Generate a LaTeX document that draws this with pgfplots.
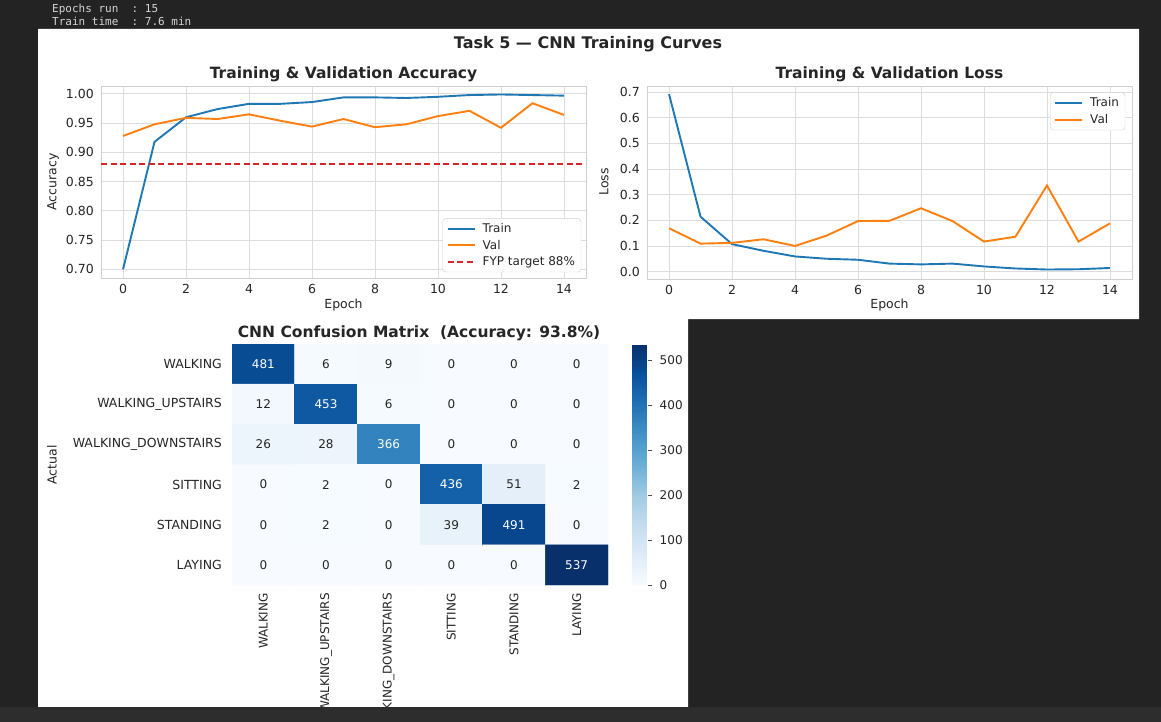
\documentclass[border=0pt]{standalone}
\usepackage{fontspec}
\setmainfont{DejaVu Sans}
\setmonofont{DejaVu Sans Mono}
\usepackage{pgfplots}
\pgfplotsset{compat=1.18}
\usepackage{pgfplotstable}

\definecolor{bgdark}{HTML}{232324}
\definecolor{bgstrip}{HTML}{2D2D2E}
\definecolor{tabblue}{HTML}{1F77B4}
\definecolor{taborange}{HTML}{FF7F0E}
\definecolor{tabred}{HTML}{D62728}
\definecolor{gridc}{HTML}{DDDDDD}
\definecolor{spinec}{HTML}{D0D0D0}
\definecolor{txt}{HTML}{262626}
\definecolor{termtxt}{HTML}{D4D4D4}

\pgfplotstableread{
epoch trainacc valacc trainloss valloss
0  0.700 0.928 0.692 0.169
1  0.918 0.948 0.214 0.109
2  0.960 0.959 0.107 0.112
3  0.974 0.957 0.081 0.126
4  0.983 0.965 0.059 0.100
5  0.983 0.954 0.050 0.140
6  0.986 0.944 0.046 0.197
7  0.994 0.957 0.031 0.198
8  0.994 0.943 0.028 0.247
9  0.993 0.948 0.031 0.197
10 0.995 0.962 0.020 0.117
11 0.998 0.971 0.012 0.136
12 0.999 0.942 0.008 0.336
13 0.998 0.984 0.009 0.117
14 0.997 0.964 0.014 0.188
}\histtable

\pgfplotstableread{
x y c
0 0 481
1 0 6
2 0 9
3 0 0
4 0 0
5 0 0
0 1 12
1 1 453
2 1 6
3 1 0
4 1 0
5 1 0
0 2 26
1 2 28
2 2 366
3 2 0
4 2 0
5 2 0
0 3 0
1 3 2
2 3 0
3 3 436
4 3 51
5 3 2
0 4 0
1 4 2
2 4 0
3 4 39
4 4 491
5 4 0
0 5 0
1 5 0
2 5 0
3 5 0
4 5 0
5 5 537
}\cmtable

\pgfplotstableread{
x y c
0 0 481
1 1 453
2 2 366
3 3 436
4 4 491
5 5 537
}\cmhi

\pgfplotstableread{
x y c
1 0 6
2 0 9
3 0 0
4 0 0
5 0 0
0 1 12
2 1 6
3 1 0
4 1 0
5 1 0
0 2 26
1 2 28
3 2 0
4 2 0
5 2 0
0 3 0
1 3 2
2 3 0
4 3 51
5 3 2
0 4 0
1 4 2
2 4 0
3 4 39
5 4 0
0 5 0
1 5 0
2 5 0
3 5 0
4 5 0
}\cmlo

\pgfplotsset{
  lineaxis/.style={
    anchor=north west, scale only axis,
    xmin=-0.7, xmax=14.7,
    xtick={0,2,...,14},
    grid=major, grid style={gridc, line width=0.8pt},
    axis line style={spinec, line width=0.8pt},
    major tick length=0pt,
    tick label style={font=\fontsize{12.5}{14}\selectfont, text=txt, inner sep=0pt},
    /pgf/number format/assume math mode=true,
    xticklabel shift=6pt, yticklabel shift=7pt,
    legend cell align=left,
    legend image code/.code={\draw[##1, line width=2pt] (0pt,0pt) -- (27pt,0pt);},
  },
}

\begin{document}
\begin{tikzpicture}
% backgrounds
\fill[bgdark] (0,0) rectangle (1161pt,-722pt);
\fill[white] (38pt,-29pt) -- (1139pt,-29pt) -- (1139pt,-319pt) -- (688pt,-319pt)
  -- (688pt,-707pt) -- (38pt,-707pt) -- cycle;
\node[anchor=base west, font=\ttfamily\fontsize{11}{12}\selectfont, text=termtxt, inner sep=0pt]
  at (52pt,-13pt) {Epochs run\ \ :\ 15};
\node[anchor=base west, font=\ttfamily\fontsize{11}{12}\selectfont, text=termtxt, inner sep=0pt]
  at (52pt,-26pt) {Train time\ \ :\ 7.6 min};

% titles
\node[font=\bfseries\fontsize{16}{18}\selectfont, text=txt] at (588pt,-44pt) {Task 5 — CNN Training Curves};
\node[font=\bfseries\fontsize{15.5}{17}\selectfont, text=txt] at (343.5pt,-74pt) {Training \& Validation Accuracy};
\node[font=\bfseries\fontsize{15.5}{17}\selectfont, text=txt] at (889.5pt,-74pt) {Training \& Validation Loss};
\node[font=\bfseries\fontsize{15.5}{17}\selectfont, text=txt] at (419pt,-333pt) {CNN Confusion Matrix\ \ (Accuracy: 93.8\%)};

% axis labels
\node[font=\fontsize{12.5}{14}\selectfont, text=txt] at (343.5pt,-305pt) {Epoch};
\node[font=\fontsize{12.5}{14}\selectfont, text=txt] at (889.5pt,-305pt) {Epoch};
\node[font=\fontsize{12.5}{14}\selectfont, text=txt, rotate=90] at (53pt,-182pt) {Accuracy};
\node[font=\fontsize{12.5}{14}\selectfont, text=txt, rotate=90] at (604pt,-182pt) {Loss};
\node[font=\fontsize{12.5}{14}\selectfont, text=txt, rotate=90] at (52pt,-465pt) {Actual};

% accuracy
\begin{axis}[lineaxis,
  at={(101pt,-86pt)}, width=485pt, height=192pt,
  ymin=0.685, ymax=1.0135,
  ytick={0.70,0.75,0.80,0.85,0.90,0.95,1.00},
  yticklabel style={/pgf/number format/.cd, fixed, fixed zerofill, precision=2},
  legend style={at={(0.99,0.03)}, anchor=south east, draw=spinec, fill=white,
    rounded corners=3pt, font=\fontsize{12}{14}\selectfont, text=txt,
    row sep=2pt, inner xsep=4pt, inner ysep=3pt,
    /tikz/every odd column/.append style={column sep=5pt}},
]
\addplot[tabblue, line width=1.9pt, mark=none] table[x=epoch, y=trainacc] {\histtable};
\addlegendentry{Train}
\addplot[taborange, line width=1.9pt, mark=none] table[x=epoch, y=valacc] {\histtable};
\addlegendentry{Val}
\addplot[tabred, line width=1.7pt, dash pattern=on 6pt off 3.5pt, mark=none] coordinates {(-0.7,0.88) (14.7,0.88)};
\addlegendentry{FYP target 88\%}
\end{axis}

% loss
\begin{axis}[lineaxis,
  at={(647pt,-86pt)}, width=485pt, height=193pt,
  ymin=-0.029, ymax=0.724,
  ytick={0,0.1,0.2,0.3,0.4,0.5,0.6,0.7},
  yticklabel style={/pgf/number format/.cd, fixed, fixed zerofill, precision=1},
  legend style={at={(0.986,0.966)}, anchor=north east, draw=spinec, fill=white,
    rounded corners=3pt, font=\fontsize{12}{14}\selectfont, text=txt,
    row sep=2pt, inner xsep=4pt, inner ysep=3pt,
    /tikz/every odd column/.append style={column sep=5pt}},
]
\addplot[tabblue, line width=1.9pt, mark=none] table[x=epoch, y=trainloss] {\histtable};
\addlegendentry{Train}
\addplot[taborange, line width=1.9pt, mark=none] table[x=epoch, y=valloss] {\histtable};
\addlegendentry{Val}
\end{axis}

% confusion matrix
\begin{axis}[
  at={(232pt,-344pt)}, anchor=north west,
  width=376pt, height=241pt, scale only axis,
  xmin=-0.5, xmax=5.5, ymin=-0.5, ymax=5.5, y dir=reverse,
  axis line style={draw=none},
  major tick length=0pt,
  xtick={0,1,2,3,4,5}, ytick={0,1,2,3,4,5},
  xticklabels={WALKING,WALKING\_UPSTAIRS,WALKING\_DOWNSTAIRS,SITTING,STANDING,LAYING},
  yticklabels={WALKING,WALKING\_UPSTAIRS,WALKING\_DOWNSTAIRS,SITTING,STANDING,LAYING},
  tick label style={font=\fontsize{12.5}{14}\selectfont, text=txt, inner sep=0pt},
  xticklabel style={rotate=90, anchor=east, font=\fontsize{12}{14}\selectfont},
  yticklabel style={anchor=east},
  xticklabel shift=8pt, yticklabel shift=10pt,
  colormap={blues}{rgb255=(247,251,255) rgb255=(222,235,247) rgb255=(198,219,239)
    rgb255=(158,202,225) rgb255=(107,174,214) rgb255=(66,146,198) rgb255=(33,113,181)
    rgb255=(8,81,156) rgb255=(8,48,107)},
  point meta min=0, point meta max=537,
  colorbar,
  colorbar style={
    at={(parent axis.north east)}, anchor=north west, xshift=16pt,
    scale only axis, width=15pt, height=241pt,
    ytick={0,100,200,300,400,500},
    ytick pos=right,
    yticklabel pos=right,
    axis line style={draw=none},
    major tick length=4pt, tick align=outside,
    tick style={txt!80, line width=0.7pt},
    yticklabel style={font=\fontsize{12}{14}\selectfont, text=txt, inner sep=0pt, anchor=west},
    yticklabel shift=8pt,
    /pgf/number format/assume math mode=true,
  },
]
\addplot[matrix plot*, mesh/cols=6, point meta=explicit] table[x=x, y=y, meta=c] {\cmtable};
\addplot[only marks, mark=none, nodes near coords, point meta=explicit symbolic,
  nodes near coords align=center,
  every node near coord/.append style={font=\fontsize{12}{14}\selectfont, text=white, anchor=center}]
  table[x=x, y=y, meta=c] {\cmhi};
\addplot[only marks, mark=none, nodes near coords, point meta=explicit symbolic,
  nodes near coords align=center,
  every node near coord/.append style={font=\fontsize{12}{14}\selectfont, text=txt, anchor=center}]
  table[x=x, y=y, meta=c] {\cmlo};
\end{axis}

% bottom strip (screenshot crop)
\fill[bgstrip] (0,-707pt) rectangle (1161pt,-722pt);
\fill[bgdark] (0,-29pt) rectangle (38pt,-707pt);

\pgfresetboundingbox
\useasboundingbox (0,0) rectangle (1161pt,-722pt);
\end{tikzpicture}
\end{document}
